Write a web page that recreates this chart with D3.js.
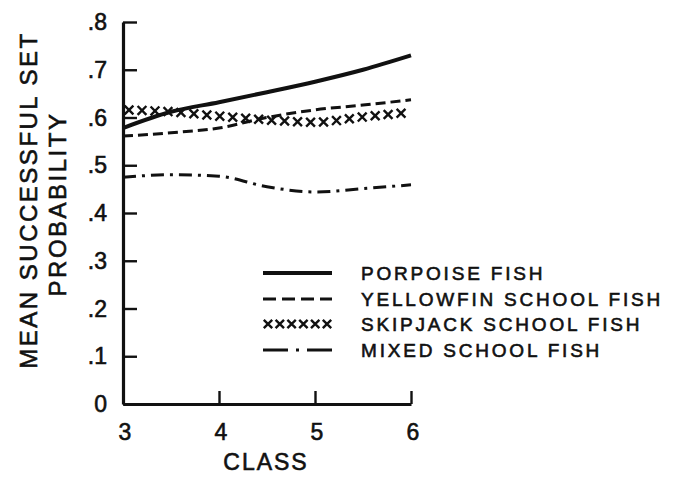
<!doctype html>
<html lang="en">

<head>
  <title>Mean successful set probability by class</title>
  <meta charset="utf-8">
  <script src="https://d3js.org/d3.v7.min.js"></script>
  <style>
    body { margin: 0; background: #fff; }
    svg text { font-family: "Liberation Sans", Arial, sans-serif; fill: #111; stroke: #111; stroke-width: 0.6px; }
  </style>
</head>

<body>
  <div id="chart"></div>

  <script>
    // Data --------------------------------------------------------------------------------------------------------
    const classes = [3, 3.5, 4, 4.5, 5, 5.5, 6];
    const porpoise = [0.578, 0.612, 0.632, 0.653, 0.675, 0.700, 0.730];
    const yellowfin = [0.561, 0.568, 0.578, 0.600, 0.616, 0.626, 0.637];
    const skipjack = [0.616, 0.612, 0.603, 0.595, 0.590, 0.601, 0.611];
    const mixed = [0.475, 0.480, 0.477, 0.455, 0.444, 0.451, 0.459];

    const yTicks = [0, 0.1, 0.2, 0.3, 0.4, 0.5, 0.6, 0.7, 0.8];
    const yTickLabels = ["0", ".1", ".2", ".3", ".4", ".5", ".6", ".7", ".8"];
    const xTicks = [3, 4, 5, 6];

    const seriesNames = ["PORPOISE FISH", "YELLOWFIN SCHOOL FISH", "SKIPJACK SCHOOL FISH", "MIXED SCHOOL FISH"];

    // Canvas ------------------------------------------------------------------------------------------------------
    const width = 677;
    const height = 484;

    const svg = d3.select("#chart")
      .append("svg")
      .attr("width", width)
      .attr("height", height);

    const x = d3.scaleLinear().domain([3, 6]).range([123, 411]);
    const y = d3.scaleLinear().domain([0, 0.8]).range([404, 22]);

    // Axes --------------------------------------------------------------------------------------------------------
    const yAxis = svg.append("g")
      .attr("transform", "translate(123,0)")
      .call(d3.axisRight(y).tickValues(yTicks).tickSize(14).tickSizeOuter(0).tickFormat(""));

    const xAxis = svg.append("g")
      .attr("transform", "translate(0,404)")
      .call(d3.axisTop(x).tickValues(xTicks).tickSize(13).tickSizeOuter(0).tickFormat(""));

    yAxis.select(".domain").attr("stroke", "#111").attr("stroke-width", 3.2);
    xAxis.select(".domain").attr("stroke", "#111").attr("stroke-width", 3.2);
    svg.selectAll(".tick line").attr("stroke", "#111").attr("stroke-width", 2.4);

    svg.append("g")
      .selectAll("text")
      .data(yTicks)
      .join("text")
      .attr("x", 107)
      .attr("y", d => y(d) + 8)
      .attr("text-anchor", "end")
      .style("font-size", "23px")
      .text((d, i) => yTickLabels[i]);

    svg.append("g")
      .selectAll("text")
      .data(xTicks)
      .join("text")
      .attr("x", d => x(d) + 2)
      .attr("y", 440)
      .attr("text-anchor", "middle")
      .style("font-size", "23px")
      .text(d => d);

    svg.append("text")
      .attr("x", 266)
      .attr("y", 470)
      .attr("text-anchor", "middle")
      .style("font-size", "23px")
      .style("letter-spacing", "2px")
      .text("CLASS");

    svg.append("text")
      .attr("transform", "translate(37,200) rotate(-90)")
      .attr("text-anchor", "middle")
      .style("font-size", "24px")
      .style("letter-spacing", "2.5px")
      .text("MEAN SUCCESSFUL SET");

    svg.append("text")
      .attr("transform", "translate(66,204) rotate(-90)")
      .attr("text-anchor", "middle")
      .style("font-size", "24px")
      .style("letter-spacing", "2.5px")
      .text("PROBABILITY");

    // Lines -------------------------------------------------------------------------------------------------------
    const line = d3.line()
      .x((d, i) => x(classes[i]))
      .y(d => y(d))
      .curve(d3.curveMonotoneX);

    const lines = svg.append("g").attr("fill", "none").attr("stroke", "#111");

    lines.append("path")
      .attr("d", line(porpoise))
      .attr("stroke-width", 4);

    lines.append("path")
      .attr("d", line(yellowfin))
      .attr("stroke-width", 3)
      .attr("stroke-dasharray", "10,5");

    lines.append("path")
      .attr("d", line(mixed))
      .attr("stroke-width", 3)
      .attr("stroke-dasharray", "13,6,3,6");

    // Skipjack is drawn as a row of x marks along its curve
    const skipPath = lines.append("path")
      .attr("d", line(skipjack))
      .attr("stroke", "none");

    const pathNode = skipPath.node();
    const total = pathNode.getTotalLength();
    const marks = d3.range(6, total, 13).map(l => pathNode.getPointAtLength(l));

    const cross = (cx, cy, r) => `M${cx - r},${cy - r}L${cx + r},${cy + r}M${cx + r},${cy - r}L${cx - r},${cy + r}`;

    svg.append("g")
      .selectAll("path")
      .data(marks)
      .join("path")
      .attr("d", p => cross(p.x, p.y, 4.4))
      .attr("fill", "none")
      .attr("stroke", "#111")
      .attr("stroke-width", 2.4);

    // Legend ------------------------------------------------------------------------------------------------------
    const legendX0 = 263;
    const legendX1 = 332;
    const legendRows = [273, 299, 324, 350];

    const legend = svg.append("g");

    legend.append("line")
      .attr("x1", legendX0).attr("x2", legendX1)
      .attr("y1", legendRows[0]).attr("y2", legendRows[0])
      .attr("stroke", "#111").attr("stroke-width", 4);

    legend.append("line")
      .attr("x1", legendX0).attr("x2", legendX1)
      .attr("y1", legendRows[1]).attr("y2", legendRows[1])
      .attr("stroke", "#111").attr("stroke-width", 3)
      .attr("stroke-dasharray", "13,6");

    legend.selectAll(".legend-x")
      .data(d3.range(6))
      .join("path")
      .attr("class", "legend-x")
      .attr("d", i => cross(legendX0 + 5 + i * 11.8, legendRows[2], 4.2))
      .attr("fill", "none")
      .attr("stroke", "#111")
      .attr("stroke-width", 2.4);

    legend.append("line")
      .attr("x1", legendX0).attr("x2", legendX1)
      .attr("y1", legendRows[3]).attr("y2", legendRows[3])
      .attr("stroke", "#111").attr("stroke-width", 3)
      .attr("stroke-dasharray", "25,8,3,8,25");

    legend.selectAll("text")
      .data(seriesNames)
      .join("text")
      .attr("x", 361)
      .attr("y", (d, i) => legendRows[i] + 7)
      .style("font-size", "19px")
      .style("letter-spacing", "2.8px")
      .text(d => d);
  </script>
</body>

</html>
